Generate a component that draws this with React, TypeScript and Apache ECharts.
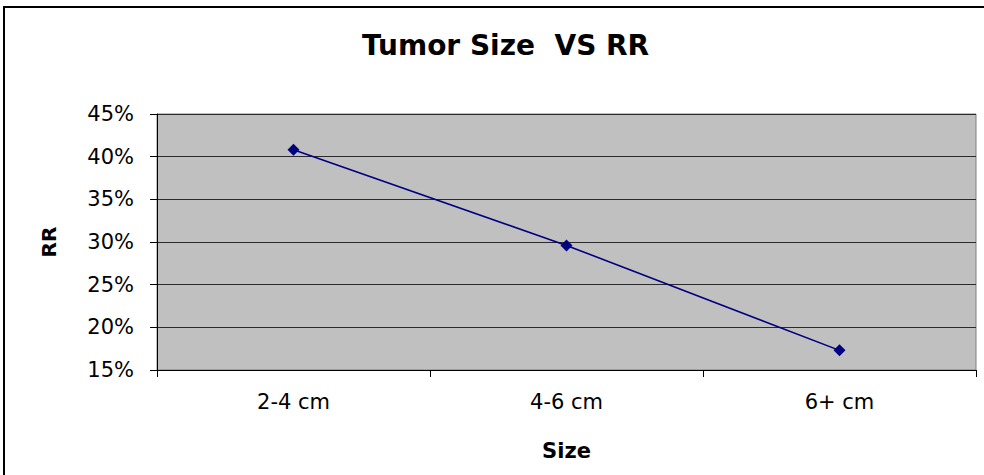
import React, { useEffect, useRef } from "react";
import * as echarts from "echarts";

const categories = ["2-4 cm", "4-6 cm", "6+ cm"];
const rrValues = [40.8, 29.6, 17.3];
const titleText = "Tumor Size  VS RR";
const xName = "Size";
const yName = "RR";

export default function App() {
  const ref = useRef<HTMLDivElement>(null);
  useEffect(() => {
    if (!ref.current) return;
    const chart = echarts.init(ref.current, null, { renderer: "svg" });
    chart.setOption({
      animation: false,
      backgroundColor: "#ffffff",
      title: {
        text: titleText,
        left: 357,
        top: 26,
        textStyle: {
          fontFamily: "DejaVu Sans",
          fontWeight: "bold",
          fontSize: 28,
          color: "#000",
        },
      },
      graphic: [
        {
          type: "rect",
          shape: { x: 4, y: 7, width: 1100, height: 600 },
          style: { fill: "none", stroke: "#000", lineWidth: 2 },
          silent: true,
          z: 100,
        },
      ],
      grid: {
        left: 157,
        top: 114,
        right: 8,
        bottom: 105,
        show: true,
        backgroundColor: "#C0C0C0",
        borderColor: "#808080",
        borderWidth: 1,
      },
      xAxis: {
        type: "category",
        data: categories,
        boundaryGap: true,
        name: xName,
        nameLocation: "middle",
        nameGap: 70,
        nameTextStyle: {
          fontFamily: "DejaVu Sans",
          fontWeight: "bold",
          fontSize: 21,
          color: "#000",
        },
        axisLine: { show: true, lineStyle: { color: "#000", width: 1 } },
        axisTick: { show: true, length: 7, inside: false, lineStyle: { color: "#000" } },
        axisLabel: {
          margin: 21,
          fontFamily: "DejaVu Sans",
          fontSize: 21,
          color: "#000",
        },
        splitLine: { show: false },
      },
      yAxis: {
        type: "value",
        min: 15,
        max: 45,
        interval: 5,
        name: yName,
        nameLocation: "middle",
        nameGap: 98,
        nameRotate: 90,
        nameTextStyle: {
          fontFamily: "DejaVu Sans",
          fontWeight: "bold",
          fontSize: 20,
          color: "#000",
        },
        axisLine: { show: true, lineStyle: { color: "#000", width: 1 } },
        axisTick: { show: true, length: 7, inside: false, lineStyle: { color: "#000" } },
        axisLabel: {
          formatter: "{value}%",
          margin: 23,
          fontFamily: "DejaVu Sans",
          fontSize: 21,
          color: "#000",
        },
        splitLine: { show: true, lineStyle: { color: "#2a2a2a", width: 1 } },
      },
      series: [
        {
          type: "line",
          data: rrValues,
          symbol: "diamond",
          symbolSize: 12,
          lineStyle: { color: "#000080", width: 1.6 },
          itemStyle: { color: "#000080" },
          z: 5,
        },
      ],
    });
    return () => chart.dispose();
  }, []);
  return (
    <div
      ref={ref}
      style={{ position: "fixed", left: 0, top: 0, width: 984, height: 475 }}
    />
  );
}
